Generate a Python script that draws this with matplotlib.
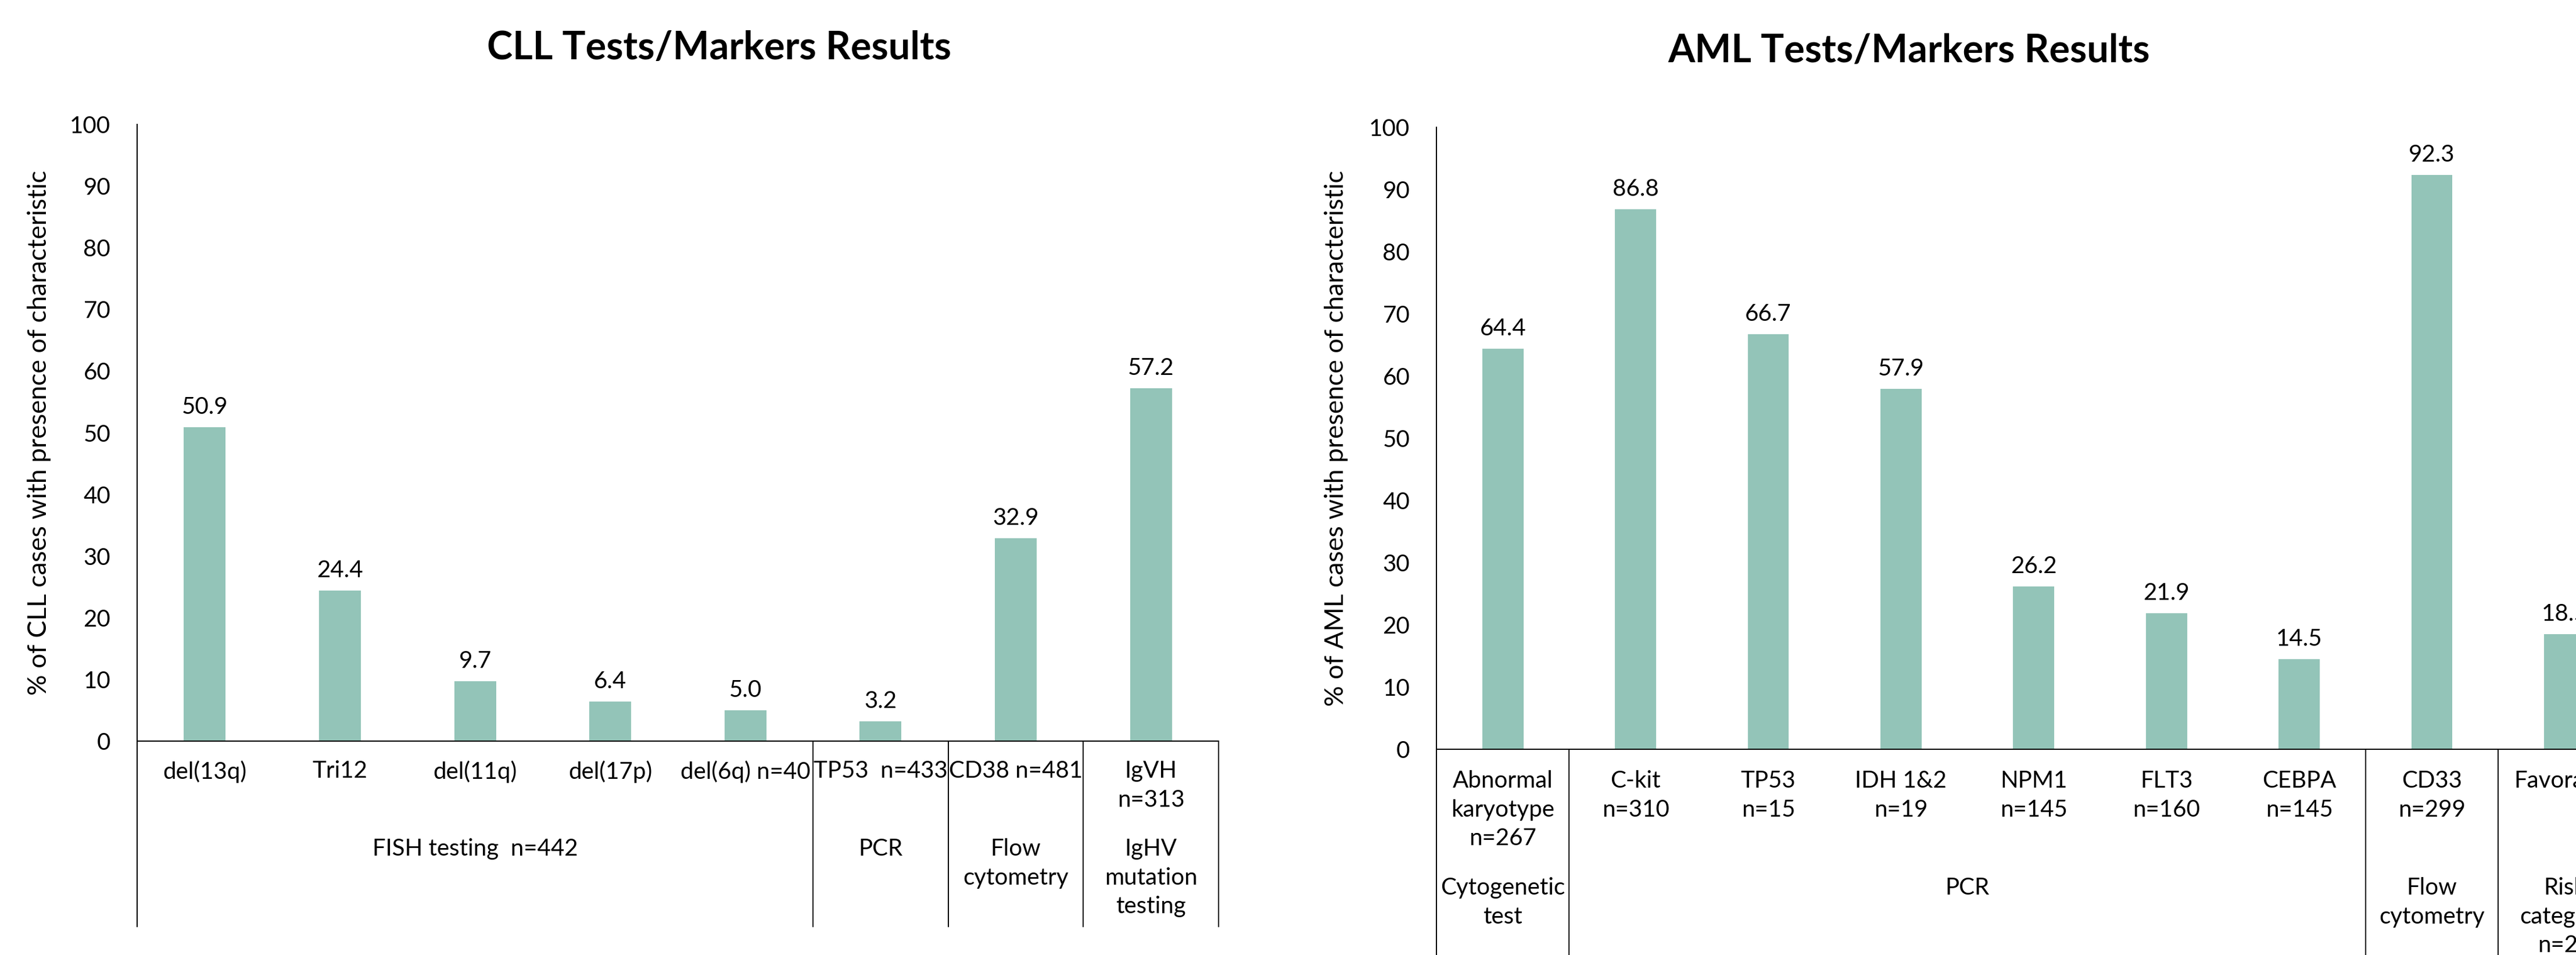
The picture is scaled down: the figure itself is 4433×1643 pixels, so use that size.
import matplotlib.pyplot as plt
from matplotlib.transforms import blended_transform_factory

plt.switch_backend('Agg')
plt.rcParams['font.family'] = ['Lato', 'DejaVu Sans']

BAR_COLOR = '#93c4b8'
DPI = 100
FIG_W, FIG_H = 4433, 1643

# CLL panel
cll_labels = ['del(13q)', 'Tri12', 'del(11q)', 'del(17p)', 'del(6q) n=40',
              'TP53  n=433', 'CD38 n=481', 'IgVH\nn=313']
cll_values = [50.9, 24.4, 9.7, 6.4, 5.0, 3.2, 32.9, 57.2]
cll_groups = ['FISH testing  n=442', 'PCR', 'Flow\ncytometry', 'IgHV\nmutation\ntesting']
cll_group_sizes = [5, 1, 1, 1]

# AML panel
aml_labels = ['Abnormal\nkaryotype\nn=267', 'C-kit\nn=310', 'TP53\nn=15', 'IDH 1&2\nn=19',
              'NPM1\nn=145', 'FLT3\nn=160', 'CEBPA\nn=145', 'CD33\nn=299', 'Favorable']
aml_values = [64.4, 86.8, 66.7, 57.9, 26.2, 21.9, 14.5, 92.3, 18.5]
aml_groups = ['Cytogenetic\ntest', 'PCR', 'Flow\ncytometry', 'Risk\ncategory\nn=25']
aml_group_sizes = [1, 6, 1, 1]

FS = 29
LS = 1.42


def draw_panel(ax, labels, values, groups, sizes, ylabel, ax_h_px,
               cat_off, grp_off, box_off, ylabel_x):
    n = len(values)
    x = list(range(n))
    ax.bar(x, values, width=0.31, color=BAR_COLOR, zorder=2)
    ax.set_xlim(-0.5, n - 0.5)
    ax.set_ylim(0, 100)
    ax.set_yticks(range(0, 101, 10))
    ax.set_xticks([])
    ax.tick_params(axis='y', length=0, pad=33, labelsize=FS)
    for s in ('top', 'right'):
        ax.spines[s].set_visible(False)
    for s in ('left', 'bottom'):
        ax.spines[s].set_linewidth(1.4)
        ax.spines[s].set_color('black')

    ax.set_ylabel(ylabel, fontsize=32)
    ax.yaxis.set_label_coords(ylabel_x, 0.5)

    for xi, v in zip(x, values):
        ax.annotate(f'{v:.1f}', (xi, v), xytext=(0, 16), textcoords='offset pixels',
                    ha='center', va='bottom', fontsize=FS)

    tr = blended_transform_factory(ax.transData, ax.transAxes)
    # category labels under each bar
    for xi, lab in zip(x, labels):
        ax.text(xi, -cat_off / ax_h_px, lab, transform=tr, ha='center', va='top',
                fontsize=FS, linespacing=LS, clip_on=False)

    # group labels and separators of the category table
    y_bot = -box_off / ax_h_px
    start = -0.5
    ax.plot([start, start], [0, y_bot], transform=tr, color='black', lw=1.4, clip_on=False)
    for g, size in zip(groups, sizes):
        end = start + size
        ax.text((start + end) / 2, -grp_off / ax_h_px, g, transform=tr, ha='center',
                va='top', fontsize=FS, linespacing=LS, clip_on=False)
        ax.plot([end, end], [0, y_bot], transform=tr, color='black', lw=1.4, clip_on=False)
        start = end


fig = plt.figure(figsize=(FIG_W / DPI, FIG_H / DPI), dpi=DPI)


def px_axes(left, right, top, zero):
    return [left / FIG_W, (FIG_H - zero) / FIG_H, (right - left) / FIG_W, (zero - top) / FIG_H]


ax1 = fig.add_axes(px_axes(236, 2097, 214, 1275))
draw_panel(ax1, cll_labels, cll_values, cll_groups, cll_group_sizes,
           '% of CLL cases with presence of characteristic', 1061,
           cat_off=33, grp_off=167, box_off=319, ylabel_x=-0.0795)

ax2 = fig.add_axes(px_axes(2472, 2472 + 9 * 228.4, 218.6, 1289))
draw_panel(ax2, aml_labels, aml_values, aml_groups, aml_group_sizes,
           '% of AML cases with presence of characteristic', 1070.4,
           cat_off=36, grp_off=220, box_off=420, ylabel_x=-0.0739)

fig.text(1238 / FIG_W, 1 - 102 / FIG_H, 'CLL Tests/Markers Results', ha='center',
         va='baseline', fontsize=48, fontweight='bold')
fig.text(3285 / FIG_W, 1 - 107 / FIG_H, 'AML Tests/Markers Results', ha='center',
         va='baseline', fontsize=48, fontweight='bold')

fig.savefig('out.png', dpi=DPI)
